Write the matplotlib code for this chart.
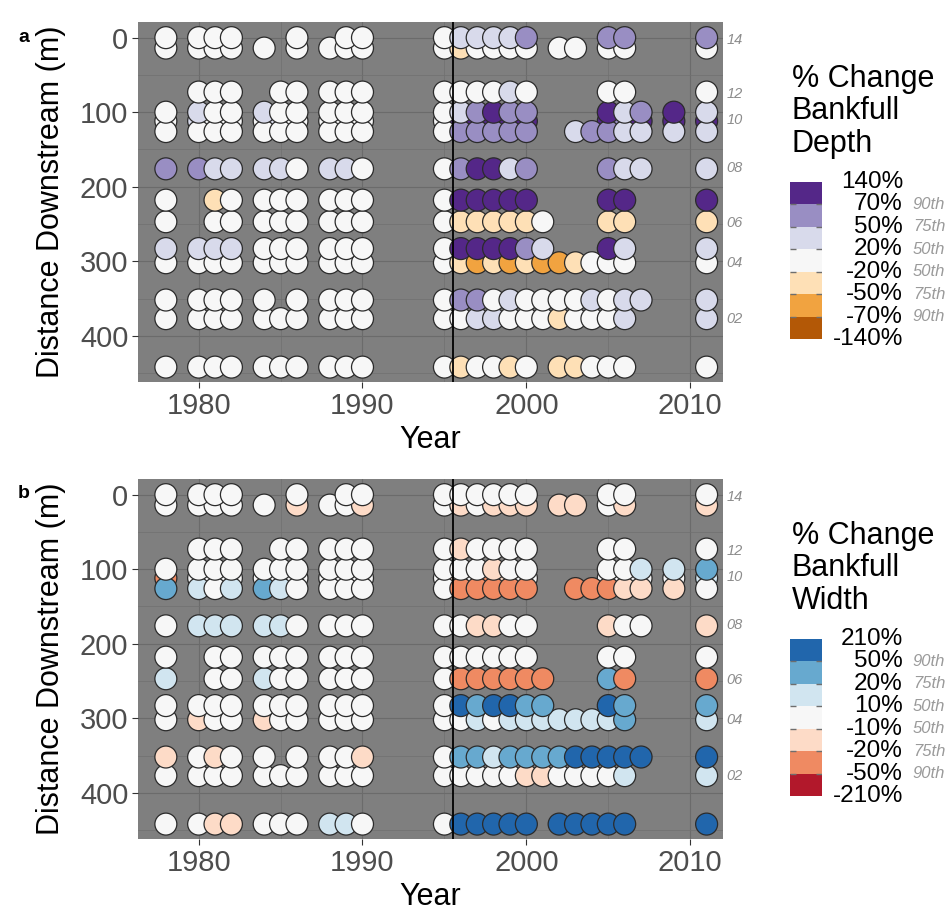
import matplotlib
matplotlib.use("Agg")
import matplotlib.pyplot as plt
from matplotlib.colors import ListedColormap
from matplotlib.transforms import blended_transform_factory

plt.rcParams['font.family'] = ['Liberation Sans', 'DejaVu Sans']

# survey years, one column of circles per year
years = [1978, 1980, 1981, 1982, 1984, 1985, 1986, 1988, 1989, 1990,
         1995, 1996, 1997, 1998, 1999, 2000,
         2001, 2002, 2003, 2004, 2005, 2006, 2007, 2009, 2011]

# cross-section positions downstream (m)
xs_dist = [0, 14, 73, 100, 112, 126, 176, 218, 247, 283, 302, 352, 377, 442]

# binned % change per cross-section (rows) and year (columns), '.' = not surveyed
# bins 0..6 go from largest decrease to largest increase, 3 = little change
# column groups: 1978 | 1980-82 | 1984-86 | 1988-90 | 1995-2000 | 2001-07 | 2009 | 2011
depth_bins = [
    "3 333 ..3 .33 344445 ....55. . 5",
    "3 333 3.3 333 323333 .33.33. . 3",
    ". 333 .33 333 333343 ....33. . 3",
    "3 433 433 333 345655 ....645 6 4",
    "3 433 343 333 366666 ....656 6 6",
    "3 333 333 333 355555 ..45544 4 4",
    "5 544 443 443 356645 ....544 . 4",
    "3 .23 333 333 366666 ....66. . 6",
    "3 .33 333 333 322222 3...22. . 2",
    "4 444 333 333 366665 4...64. . 4",
    "3 333 333 333 321212 112333. . 3",
    "3 333 3.3 333 355343 3334344 . 4",
    "3 333 333 333 334433 323334. . 4",
    "3 333 333 333 323323 .22333. . 3",
]
width_bins = [
    "3 333 ..3 .33 333333 ....33. . 3",
    "3 333 3.2 332 323222 .22.32. . 2",
    ". 333 .33 333 323333 ....33. . 3",
    "3 333 333 333 333233 ....334 4 5",
    "1 333 333 333 323123 ....333 3 4",
    "5 434 543 333 311111 ..11122 2 3",
    "3 444 443 333 332233 ....233 . 2",
    "3 .33 333 333 333333 ....33. . 3",
    "4 .33 433 333 311111 1...51. . 1",
    "3 333 333 333 365665 5...65. . 5",
    "3 233 233 333 334344 444445. . 4",
    "2 323 3.3 332 355455 5566666 . 6",
    "3 333 333 333 333332 233334. . 4",
    "3 322 333 443 366666 .66666. . 6",
]

site_names = ["14", "12", "10", "08", "06", "04", "02"]
site_dist = [3, 75, 110, 175, 249, 302, 378]

# legend breaks, bottom to top
depth_breaks = ["-140%", "-70%", "-50%", "-20%", "20%", "50%", "70%", "140%"]
width_breaks = ["-210%", "-50%", "-20%", "-10%", "10%", "20%", "50%", "210%"]
pct_labels = ["90th", "75th", "50th", "50th", "75th", "90th"]

depth_colors = ['#b35806', '#f1a340', '#fee0b6', '#f7f7f7', '#d8daeb', '#998ec3', '#542788']
width_colors = ['#b2182b', '#ef8a62', '#fddbc7', '#f7f7f7', '#d1e5f0', '#67a9cf', '#2166ac']

# middle cross-section at ~110 m sits underneath its neighbours
draw_order = [13, 12, 11, 10, 9, 8, 7, 6, 4, 5, 3, 2, 1, 0]

W, H = 948, 911


def px_box(left, top, right, bottom):
    return [left / W, 1 - bottom / H, (right - left) / W, (bottom - top) / H]


def draw_panel(ax, bins, colors):
    cmap = ListedColormap(colors)
    for r in draw_order:
        codes = bins[r].replace(" ", "")
        yr = [y for y, ch in zip(years, codes) if ch != "."]
        val = [int(ch) for ch in codes if ch != "."]
        ax.scatter(yr, [xs_dist[r]] * len(yr), c=val, cmap=cmap, vmin=-0.5, vmax=6.5,
                   s=250, edgecolors='#2b2b2b', linewidths=0.9, zorder=3)
    ax.axvline(1995.5, color='black', lw=1.3, zorder=4)

    ax.set_facecolor('#7f7f7f')
    for sp in ax.spines.values():
        sp.set_visible(False)
    ax.set_xlim(1976.3, 2012.0)
    ax.set_ylim(462, -21)
    ax.set_xticks([1980, 1990, 2000, 2010])
    ax.set_xticks([1985, 1995, 2005], minor=True)
    ax.set_yticks([0, 100, 200, 300, 400])
    ax.set_yticks([50, 150, 250, 350, 450], minor=True)
    ax.grid(which='major', color='#6b6b6b', lw=0.8)
    ax.grid(which='minor', color='#707070', lw=0.5)
    ax.set_axisbelow(True)
    ax.tick_params(which='major', labelsize=21, labelcolor='#4d4d4d', color='#333333',
                   length=4, width=0.8, pad=3)
    ax.tick_params(which='minor', length=0)
    ax.set_xlabel('Year', fontsize=22, labelpad=4)
    ax.set_ylabel('Distance Downstream (m)', fontsize=22, labelpad=10)

    tr = blended_transform_factory(ax.transAxes, ax.transData)
    for name, d in zip(site_names, site_dist):
        ax.text(1.006, d, name, transform=tr, ha='left', va='center', style='italic',
                color='#8c8c8c', fontsize=10.5, clip_on=False)


def draw_legend(fig, top_px, title, colors, breaks):
    fig.text(792 / W, 1 - (top_px - 6) / H, title, ha='left', va='top', fontsize=22,
             linespacing=1.1)
    lax = fig.add_axes(px_box(790, top_px + 112, 822, top_px + 269))
    lax.bar([0.5] * len(colors), [1] * len(colors), bottom=range(len(colors)),
            width=1, color=colors, edgecolor='none')
    lax.hlines(range(1, len(colors)), 0, 0.18, color='#6e6e6e', lw=1)
    lax.hlines(range(1, len(colors)), 0.82, 1, color='#6e6e6e', lw=1)
    lax.set_xlim(0, 1)
    lax.set_ylim(0, len(colors))
    lax.axis('off')
    tr = blended_transform_factory(lax.transAxes, lax.transData)
    for i, lab in enumerate(breaks):
        lax.text(3.53, i, lab, transform=tr, ha='right', va='center', fontsize=17.5,
                 clip_on=False)
    for i, lab in enumerate(pct_labels):
        lax.text(3.84, i + 1, lab, transform=tr, ha='left', va='center', fontsize=12,
                 style='italic', color='#9a9a9a', clip_on=False)


fig = plt.figure(figsize=(W / 100, H / 100), dpi=100)

ax_a = fig.add_axes(px_box(138, 22, 723, 382))
draw_panel(ax_a, depth_bins, depth_colors)
draw_legend(fig, 70, "% Change\nBankfull\nDepth", depth_colors, depth_breaks)

ax_b = fig.add_axes(px_box(138, 479, 723, 839))
draw_panel(ax_b, width_bins, width_colors)
draw_legend(fig, 527, "% Change\nBankfull\nWidth", width_colors, width_breaks)

fig.text(18 / W, 1 - 37 / H, 'a', fontsize=14, fontweight='bold', va='center')
fig.text(18 / W, 1 - 494 / H, 'b', fontsize=14, fontweight='bold', va='center')

fig.savefig('out.png', dpi=100)
